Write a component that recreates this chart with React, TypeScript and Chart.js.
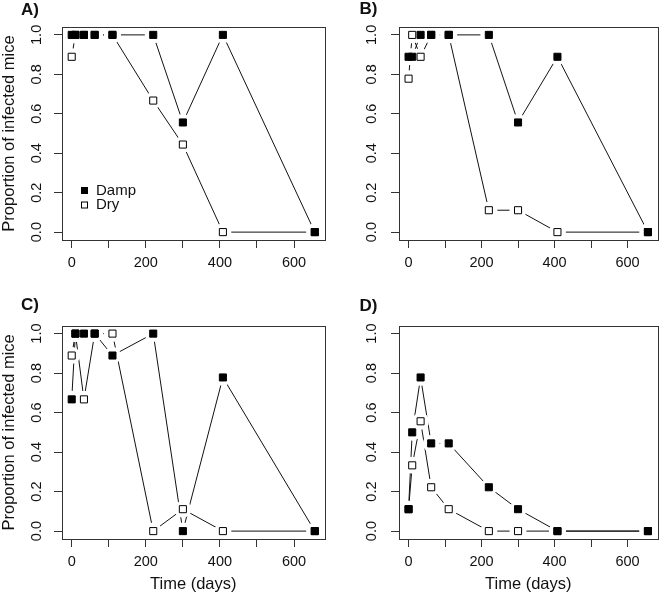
import React, { useEffect, useRef } from 'react';
import { Chart, registerables } from 'chart.js';

Chart.register(...registerables);

// ---- data ----
const DAYS = [0, 10, 33, 62, 110, 220, 300, 408, 656];
const A_DAMP = [1, 1, 1, 1, 1, 1, 0.556, 1, 0];
const A_DRY = [0.889, 1, 1, 1, 1, 0.667, 0.444, 0, 0];
const B_DAMP = [0.889, 0.889, 1, 1, 1, 1, 0.556, 0.889, 0];
const B_DRY = [0.778, 1, 0.889, 1, 1, 0.111, 0.111, 0, 0];
const C_DAMP = [0.667, 1, 1, 1, 0.889, 1, 0, 0.778, 0];
const C_DRY = [0.889, 1, 0.667, 1, 1, 0, 0.111, 0, 0];
const D_DAMP = [0.111, 0.5, 0.778, 0.444, 0.444, 0.222, 0.111, 0, 0];
const D_DRY = [0.111, 0.333, 0.556, 0.222, 0.111, 0, 0, 0, 0];

const X_TICKS = [0, 100, 200, 300, 400, 500, 600];
const X_LABELED = [0, 200, 400, 600];
const Y_TICKS = [0, 0.2, 0.4, 0.6, 0.8, 1.0];
const SERIES = ['Damp', 'Dry'];
const PANEL_LABELS = ['A)', 'B)', 'C)', 'D)'];
const X_TITLE = 'Time (days)';
const Y_TITLE = 'Proportion of infected mice';

const FONT = '"Liberation Sans", Arial, Helvetica, sans-serif';
const INK = '#111';
const AXIS = '#333';

type Area = { left: number; top: number; right: number; bottom: number };
type PanelProps = {
  damp: number[];
  dry: number[];
  label: string;
  showYTitle: boolean;
  showXTitle: boolean;
  showLegend: boolean;
  left: number;
  top: number;
  width: number;
  height: number;
  area: Area;
  labelPos: [number, number];
  yPad: number;
};

const pts = (ys: number[]) => DAYS.map((x, i) => ({ x, y: ys[i] }));

function Panel(p: PanelProps) {
  const ref = useRef<HTMLCanvasElement>(null);
  useEffect(() => {
    const canvas = ref.current;
    if (!canvas) return;

    const decor = {
      id: 'decor',
      afterDraw(chart: any) {
        const { ctx, chartArea: a } = chart;
        ctx.save();
        ctx.strokeStyle = AXIS;
        ctx.lineWidth = 1;
        const l = Math.round(a.left) + 0.5;
        const t = Math.round(a.top) + 0.5;
        const r = Math.round(a.right) + 0.5;
        const b = Math.round(a.bottom) + 0.5;
        ctx.strokeRect(l, t, r - l, b - t);

        ctx.fillStyle = INK;
        ctx.font = `bold 17px ${FONT}`;
        ctx.textBaseline = 'middle';
        ctx.textAlign = 'left';
        ctx.fillText(p.label, p.labelPos[0], p.labelPos[1]);

        if (p.showLegend) {
          const items = [
            { name: SERIES[0], fill: '#000', y: 190.5 },
            { name: SERIES[1], fill: '#fff', y: 205 },
          ];
          ctx.font = `15px ${FONT}`;
          items.forEach((it) => {
            ctx.fillStyle = it.fill;
            ctx.fillRect(81.5, it.y - 3, 6, 6);
            ctx.strokeStyle = '#000';
            ctx.lineWidth = 1;
            ctx.strokeRect(81.5, it.y - 3, 6, 6);
            ctx.fillStyle = INK;
            ctx.fillText(it.name, 96, it.y);
          });
        }
        ctx.restore();
      },
    };

    const lineDs = (name: string, ys: number[]) => ({
      label: name,
      data: pts(ys),
      showLine: true,
      borderColor: INK,
      borderWidth: 1,
      pointRadius: 0,
      pointHoverRadius: 0,
      order: 3,
    });
    const haloDs = (name: string, ys: number[]) => ({
      label: name + ' gap',
      data: pts(ys),
      showLine: false,
      pointStyle: 'circle',
      pointRadius: 8.5,
      pointHoverRadius: 8.5,
      pointBackgroundColor: '#fff',
      pointBorderColor: 'rgba(0,0,0,0)',
      pointBorderWidth: 0,
      order: 2,
    });
    const markDs = (name: string, ys: number[], fill: string) => ({
      label: name,
      data: pts(ys),
      showLine: false,
      pointStyle: 'rect',
      pointRadius: 5,
      pointHoverRadius: 5,
      pointBackgroundColor: fill,
      pointBorderColor: '#000',
      pointBorderWidth: 1,
      order: 1,
    });

    const chart = new Chart(canvas, {
      type: 'scatter',
      data: {
        datasets: [
          lineDs(SERIES[0], p.damp),
          lineDs(SERIES[1], p.dry),
          haloDs(SERIES[0], p.damp),
          haloDs(SERIES[1], p.dry),
          markDs(SERIES[0], p.damp, '#000'),
          markDs(SERIES[1], p.dry, '#fff'),
        ] as any,
      },
      options: {
        responsive: false,
        animation: false,
        events: [],
        devicePixelRatio: 1,
        layout: {
          padding: {
            left: 0,
            top: p.area.top,
            right: p.width - p.area.right,
            bottom: 0,
          },
        },
        plugins: {
          legend: { display: false },
          tooltip: { enabled: false },
          title: { display: false },
        },
        scales: {
          x: {
            type: 'linear',
            min: -26.2,
            max: 682.2,
            afterBuildTicks: (s: any) => {
              s.ticks = X_TICKS.map((value) => ({ value }));
            },
            afterFit: (s: any) => {
              s.height = p.height - p.area.bottom;
            },
            grid: {
              display: true,
              drawOnChartArea: false,
              drawTicks: true,
              tickLength: 8,
              tickColor: AXIS,
              color: AXIS,
              lineWidth: 1,
            },
            border: { display: false },
            ticks: {
              autoSkip: false,
              maxRotation: 0,
              minRotation: 0,
              padding: 6,
              color: INK,
              font: { family: FONT, size: 14.5 },
              callback: (v: any) => (X_LABELED.includes(Number(v)) ? String(v) : ''),
            },
            title: {
              display: p.showXTitle,
              text: X_TITLE,
              color: INK,
              font: { family: FONT, size: 16.5 },
              padding: { top: 0, bottom: 1 },
            },
          },
          y: {
            type: 'linear',
            min: -0.04,
            max: 1.04,
            afterBuildTicks: (s: any) => {
              s.ticks = Y_TICKS.map((value) => ({ value }));
            },
            afterFit: (s: any) => {
              s.width = p.area.left;
            },
            grid: {
              display: true,
              drawOnChartArea: false,
              drawTicks: true,
              tickLength: 8,
              tickColor: AXIS,
              color: AXIS,
              lineWidth: 1,
            },
            border: { display: false },
            ticks: {
              autoSkip: false,
              minRotation: 90,
              maxRotation: 90,
              crossAlign: 'center',
              padding: p.yPad,
              color: INK,
              font: { family: FONT, size: 14.5 },
              callback: (v: any) => Number(v).toFixed(1),
            },
            title: {
              display: p.showYTitle,
              text: Y_TITLE,
              color: INK,
              font: { family: FONT, size: 16.5 },
              padding: { top: 0, bottom: 0 },
            },
          },
        },
      } as any,
      plugins: [decor],
    });
    return () => chart.destroy();
  }, []);

  return (
    <canvas
      ref={ref}
      width={p.width}
      height={p.height}
      style={{ position: 'absolute', left: p.left, top: p.top, width: p.width, height: p.height }}
    />
  );
}

export default function App() {
  return (
    <div style={{ position: 'absolute', left: 0, top: 0, width: 666, height: 595, background: '#fff' }}>
      <Panel
        damp={A_DAMP}
        dry={A_DRY}
        label={PANEL_LABELS[0]}
        showYTitle={true}
        showXTitle={false}
        showLegend={true}
        left={0}
        top={0}
        width={333}
        height={290}
        area={{ left: 62, top: 27, right: 329.5, bottom: 240 }}
        labelPos={[21, 10]}
        yPad={7}
      />
      <Panel
        damp={B_DAMP}
        dry={B_DRY}
        label={PANEL_LABELS[1]}
        showYTitle={false}
        showXTitle={false}
        showLegend={false}
        left={333}
        top={0}
        width={333}
        height={290}
        area={{ left: 66, top: 27, right: 332, bottom: 240 }}
        labelPos={[26.5, 9]}
        yPad={9}
      />
      <Panel
        damp={C_DAMP}
        dry={C_DRY}
        label={PANEL_LABELS[2]}
        showYTitle={true}
        showXTitle={true}
        showLegend={false}
        left={0}
        top={290}
        width={333}
        height={305}
        area={{ left: 62, top: 35.7, right: 329.5, bottom: 249 }}
        labelPos={[21, 15]}
        yPad={7}
      />
      <Panel
        damp={D_DAMP}
        dry={D_DRY}
        label={PANEL_LABELS[3]}
        showYTitle={false}
        showXTitle={true}
        showLegend={false}
        left={333}
        top={290}
        width={333}
        height={305}
        area={{ left: 66, top: 35.7, right: 332, bottom: 249 }}
        labelPos={[26.5, 16]}
        yPad={9}
      />
    </div>
  );
}
